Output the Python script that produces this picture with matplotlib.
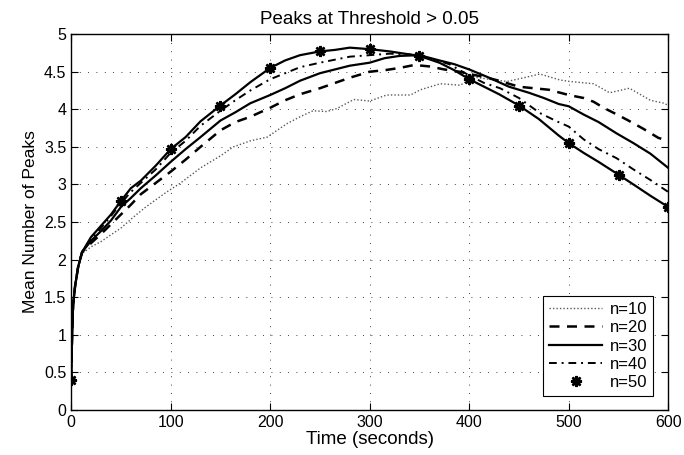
import numpy as np
import matplotlib
matplotlib.use("Agg")
import matplotlib.pyplot as plt
from matplotlib.lines import Line2D

plt.rcParams["font.family"] = ["Liberation Sans", "DejaVu Sans"]

# ---------- data ----------
t10 = [0, 1, 2, 4, 7, 11, 20, 30, 50, 63, 75, 96, 110, 130, 150, 163, 180, 197, 217, 230,
       243, 257, 267, 284, 300, 317, 341, 351, 371, 391, 404, 420, 438, 455, 471, 481, 491,
       501, 525, 541, 561, 582, 596, 600]
y10 = [0.4, 1.0, 1.4, 1.65, 1.9, 2.08, 2.17, 2.24, 2.42, 2.57, 2.7, 2.9, 3.02, 3.22, 3.38,
       3.5, 3.58, 3.63, 3.81, 3.9, 3.98, 3.97, 4.01, 4.13, 4.11, 4.19, 4.19, 4.26, 4.34, 4.32,
       4.43, 4.4, 4.37, 4.42, 4.47, 4.43, 4.39, 4.37, 4.34, 4.22, 4.28, 4.12, 4.08, 4.05]

t20 = [0, 1, 2, 4, 7, 11, 20, 30, 40, 50, 60, 70, 85, 100, 115, 130, 150, 165, 180, 200,
       215, 230, 250, 265, 280, 300, 315, 330, 345, 360, 375, 390, 400, 415, 430, 450, 465,
       480, 500, 515, 525, 535, 550, 560, 575, 590, 600]
y20 = [0.4, 1.0, 1.4, 1.65, 1.9, 2.1, 2.22, 2.34, 2.47, 2.6, 2.73, 2.87, 3.02, 3.17, 3.33,
       3.5, 3.72, 3.83, 3.9, 4.02, 4.12, 4.2, 4.28, 4.35, 4.42, 4.5, 4.52, 4.55, 4.59, 4.57,
       4.53, 4.5, 4.47, 4.43, 4.38, 4.3, 4.28, 4.26, 4.19, 4.15, 4.1, 4.02, 3.92, 3.85, 3.74,
       3.62, 3.58]

t30 = [0, 1, 2, 4, 7, 11, 20, 30, 40, 50, 60, 70, 85, 100, 115, 130, 150, 165, 180, 200,
       215, 230, 250, 265, 280, 300, 315, 330, 350, 370, 385, 400, 420, 440, 460, 475, 490,
       500, 515, 530, 548, 565, 582, 600]
y30 = [0.4, 1.0, 1.4, 1.65, 1.9, 2.1, 2.25, 2.38, 2.52, 2.7, 2.82, 2.95, 3.12, 3.3, 3.47,
       3.63, 3.85, 3.96, 4.08, 4.19, 4.28, 4.38, 4.48, 4.53, 4.58, 4.62, 4.68, 4.71, 4.72,
       4.65, 4.6, 4.53, 4.42, 4.3, 4.22, 4.15, 4.07, 4.04, 3.93, 3.83, 3.68, 3.55, 3.41, 3.22]

t40 = [0, 1, 2, 4, 7, 11, 20, 30, 40, 50, 60, 70, 85, 100, 115, 130, 150, 165, 180, 200,
       215, 230, 250, 265, 280, 300, 320, 340, 360, 380, 400, 415, 431, 450, 471, 488, 500,
       515, 530, 548, 565, 582, 600]
y40 = [0.4, 1.0, 1.4, 1.65, 1.9, 2.1, 2.27, 2.42, 2.58, 2.75, 2.9, 3.02, 3.2, 3.42, 3.58,
       3.78, 3.98, 4.12, 4.25, 4.4, 4.48, 4.56, 4.62, 4.66, 4.7, 4.72, 4.74, 4.73, 4.68, 4.6,
       4.45, 4.35, 4.28, 4.15, 3.95, 3.84, 3.77, 3.6, 3.47, 3.35, 3.2, 3.06, 2.9]

t50 = [0, 1, 2, 4, 7, 11, 20, 30, 40, 50, 60, 70, 85, 100, 115, 130, 150, 165, 180, 200,
       215, 230, 250, 265, 280, 300, 320, 335, 350, 370, 385, 400, 415, 430, 450, 470, 490,
       500, 515, 530, 550, 565, 582, 600]
y50 = [0.4, 1.0, 1.4, 1.65, 1.9, 2.1, 2.3, 2.45, 2.6, 2.78, 2.95, 3.05, 3.25, 3.47, 3.63,
       3.84, 4.05, 4.2, 4.36, 4.55, 4.65, 4.72, 4.77, 4.79, 4.82, 4.8, 4.77, 4.74, 4.71, 4.62,
       4.52, 4.4, 4.3, 4.2, 4.05, 3.87, 3.65, 3.55, 3.42, 3.3, 3.13, 3.0, 2.85, 2.7]

labels = ["n=10", "n=20", "n=30", "n=40", "n=50"]

# ---------- styles ----------
DOT = (0, (1, 1.5))
DASH = (0, (4, 3))
DASHDOT = (0, (4, 2.5, 1, 2.5))
STAR = (8, 2, 0)

fig = plt.figure(figsize=(6.84, 4.55), dpi=100)
ax = fig.add_axes([0.104, 0.099, 0.873, 0.826])

ax.plot(t10, y10, color="0.35", linestyle=DOT, linewidth=1.0)
ax.plot(t20, y20, color="black", linestyle=DASH, linewidth=1.8)
ax.plot(t30, y30, color="black", linestyle="-", linewidth=1.6)
ax.plot(t40, y40, color="black", linestyle=DASHDOT, linewidth=1.4)
t50a = np.asarray(t50)
ax.plot(t50, y50, color="black", linestyle="-", linewidth=1.6,
        marker=STAR, markersize=8, markeredgewidth=1.8,
        markevery=list(t50a % 50 == 0))

handles = [
    Line2D([], [], color="0.35", linestyle=DOT, linewidth=1.0),
    Line2D([], [], color="black", linestyle=DASH, linewidth=1.8),
    Line2D([], [], color="black", linestyle="-", linewidth=1.6),
    Line2D([], [], color="black", linestyle=DASHDOT, linewidth=1.4),
    Line2D([], [], color="black", linestyle="none", marker=STAR, markersize=8,
           markeredgewidth=1.8),
]
leg = ax.legend(handles, labels, loc="lower right", bbox_to_anchor=(0.975, 0.037),
                borderaxespad=0, fontsize=12, handlelength=3.2, handletextpad=0.45,
                labelspacing=0.2, borderpad=0.35, fancybox=False, framealpha=1,
                edgecolor="black")
leg.get_frame().set_linewidth(0.8)

ax.set_xlim(0, 600)
ax.set_ylim(0, 5)
ax.set_xticks(np.arange(0, 601, 100))
ax.set_yticks(np.arange(0, 5.01, 0.5))
ax.set_yticklabels(["0", "0.5", "1", "1.5", "2", "2.5", "3", "3.5", "4", "4.5", "5"])
ax.grid(True, color="black", linestyle=(0, (1, 9)), linewidth=0.6)
ax.tick_params(direction="in", top=True, right=True, length=5, labelsize=11.5, width=0.8)
for s in ax.spines.values():
    s.set_linewidth(1.0)

ax.set_xlabel("Time (seconds)", fontsize=13.5, labelpad=1)
ax.set_ylabel("Mean Number of Peaks", fontsize=12.5, labelpad=4)
ax.set_title("Peaks at Threshold > 0.05", fontsize=13.5, pad=7)

fig.savefig("out.png", dpi=100)
